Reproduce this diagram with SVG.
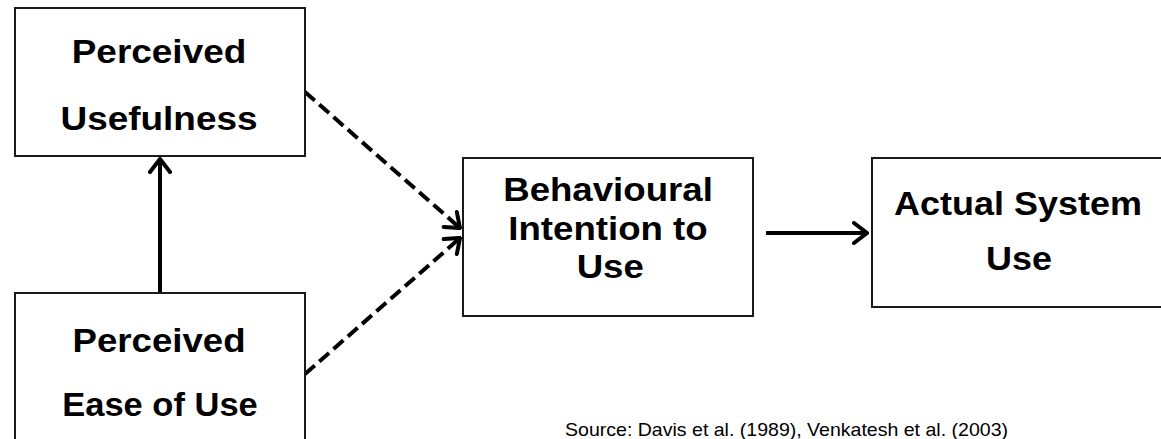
<svg xmlns="http://www.w3.org/2000/svg" width="1161" height="439" viewBox="0 0 1161 439">
  <style>
    .box { fill: #ffffff; stroke: #1a1a1a; stroke-width: 2; }
    .lbl { font-family: "Liberation Sans", Arial, sans-serif; font-weight: bold; font-size: 33px; fill: #000000; text-anchor: middle; }
    .conn { stroke: #000000; stroke-width: 4; fill: none; }
    .dash { stroke-dasharray: 13 6; }
    .src { font-family: "Liberation Sans", Arial, sans-serif; font-size: 19px; fill: #000000; }
  </style>
  <defs>
    <marker id="chev" viewBox="-16 -12 18 24" refX="0" refY="0" markerWidth="18" markerHeight="24" markerUnits="userSpaceOnUse" orient="auto">
      <path d="M-13,-10 L0,0 L-13,10" fill="none" stroke="#000000" stroke-width="4" stroke-linecap="round" stroke-linejoin="miter"/>
    </marker>
  </defs>
  <rect x="0" y="0" width="1161" height="439" fill="#ffffff"/>

  <g id="connectors">
    <line class="conn" x1="160" y1="293" x2="160" y2="159" marker-end="url(#chev)"/>
    <line class="conn dash" x1="305" y1="92" x2="460" y2="228" marker-end="url(#chev)"/>
    <line class="conn dash" x1="305" y1="374" x2="460" y2="238" marker-end="url(#chev)"/>
    <line class="conn" x1="766" y1="233" x2="867" y2="233" marker-end="url(#chev)"/>
  </g>

  <g id="perceived-usefulness">
    <rect class="box" x="15" y="8" width="290" height="148"/>
    <g transform="translate(159,0) scale(1.12,1)">
      <text class="lbl" x="0" y="63">Perceived</text>
      <text class="lbl" x="0" y="130">Usefulness</text>
    </g>
  </g>

  <g id="perceived-ease-of-use">
    <rect class="box" x="15" y="293" width="290" height="160"/>
    <g transform="translate(159,0) scale(1.11,1)">
      <text class="lbl" x="0" y="352">Perceived</text>
    </g>
    <g transform="translate(160,0) scale(1.045,1)">
      <text class="lbl" x="0" y="416">Ease of Use</text>
    </g>
  </g>

  <g id="behavioural-intention">
    <rect class="box" x="463" y="158" width="290" height="158"/>
    <g transform="translate(608,0) scale(1.11,1)">
      <text class="lbl" x="0" y="201">Behavioural</text>
      <text class="lbl" x="0" y="240">Intention to</text>
      <text class="lbl" x="2" y="278">Use</text>
    </g>
  </g>

  <g id="actual-system-use">
    <rect class="box" x="872" y="158" width="300" height="149"/>
    <g transform="translate(1018,0) scale(1.09,1)">
      <text class="lbl" x="0" y="215">Actual System</text>
      <text class="lbl" x="1" y="270">Use</text>
    </g>
  </g>

  <text class="src" x="565" y="436" textLength="443" lengthAdjust="spacingAndGlyphs">Source: Davis et al. (1989), Venkatesh et al. (2003)</text>
</svg>
